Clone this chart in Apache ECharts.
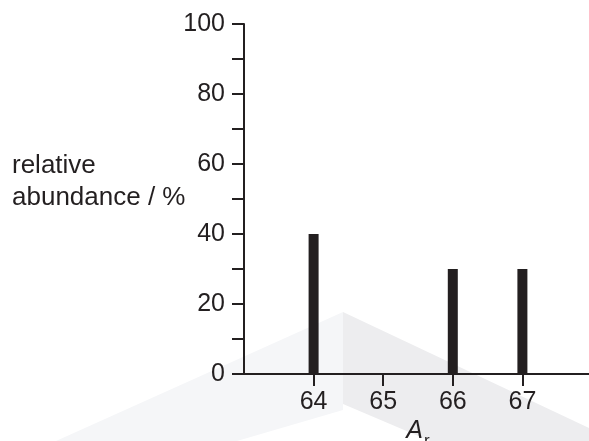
<!DOCTYPE html>
<html>
<head>
<meta charset="utf-8">
<script src="https://cdn.jsdelivr.net/npm/echarts@6/dist/echarts.min.js"></script>
<style>
  html, body { margin: 0; padding: 0; background: #ffffff; }
  #chart { width: 589px; height: 441px; }
</style>
</head>
<body>
<div id="chart"></div>
<script>
// Isotope masses (A_r) and their relative abundances in %
const masses = [64, 66, 67];
const abundances = [40, 30, 30];
const massTicks = [64, 65, 66, 67];
const yMin = 0, yMax = 100, yStep = 10;

const ink = '#231f20';
const font = "'Liberation Sans', Arial, Helvetica, sans-serif";

const chart = echarts.init(document.getElementById('chart'), null, { renderer: 'canvas' });

chart.setOption({
  animation: false,
  backgroundColor: '#ffffff',
  textStyle: { fontFamily: font, color: ink },
  grid: { left: 244, right: -3, top: 24, bottom: 67, containLabel: false, outerBoundsMode: 'none' },
  graphic: [
    // faint background emblem
    { type: 'polygon', z: -10, silent: true,
      shape: { points: [[343, 312], [343, 410], [237, 441], [56, 441]] },
      style: { fill: '#f5f6f8' } },
    { type: 'polygon', z: -10, silent: true,
      shape: { points: [[343, 312], [589, 428], [589, 441], [430, 441], [343, 404]] },
      style: { fill: '#ededef' } },
    // y-axis title
    { type: 'text', left: 12, top: 150, silent: true,
      style: { text: 'relative\nabundance / %', font: '26px ' + font, fill: ink, lineHeight: 32 } }
  ],
  xAxis: {
    type: 'value',
    min: 63, max: 68,
    name: '{a|A}{r|r}',
    nameLocation: 'middle',
    nameGap: 42,
    nameMoveOverlap: false,
    nameTextStyle: {
      rich: {
        a: { fontSize: 25, fontStyle: 'italic', fontFamily: font, color: ink, lineHeight: 30 },
        r: { fontSize: 17, fontFamily: font, color: ink, lineHeight: 30, verticalAlign: 'bottom', padding: [0, 0, -4, 1] }
      }
    },
    axisLine: { onZero: false, lineStyle: { color: ink, width: 2 } },
    axisTick: { show: true, length: 12, customValues: massTicks, lineStyle: { color: ink, width: 2 } },
    axisLabel: { customValues: massTicks, fontSize: 25, color: ink, margin: 16, fontFamily: font },
    splitLine: { show: false }
  },
  yAxis: {
    type: 'value',
    min: yMin, max: yMax, interval: yStep,
    axisLine: { show: true, lineStyle: { color: ink, width: 2 } },
    axisTick: { show: true, length: 12, lineStyle: { color: ink, width: 2 } },
    axisLabel: {
      fontSize: 25, color: ink, margin: 19, fontFamily: font,
      formatter: v => (v % 20 === 0 ? String(v) : '')
    },
    splitLine: { show: false }
  },
  series: [{
    type: 'bar',
    barWidth: 10,
    itemStyle: { color: ink },
    data: masses.map((m, i) => [m, abundances[i]])
  }]
});
</script>
</body>
</html>
